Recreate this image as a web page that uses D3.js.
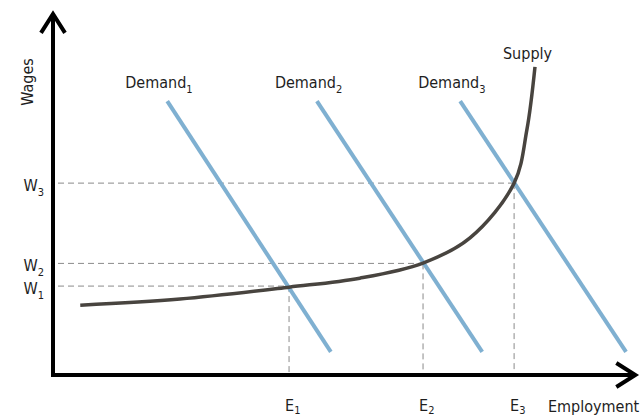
<!DOCTYPE html>
<html>
<head>
<meta charset="utf-8">
<style>
  body { margin: 0; background: #fff; }
  text { font-family: "DejaVu Sans Condensed", "DejaVu Sans", sans-serif; font-stretch: condensed; fill: #1e1e1e; }
</style>
<script src="https://cdn.jsdelivr.net/npm/d3@7"></script>
</head>
<body>
<svg id="chart"></svg>
<script>
// equilibrium levels (axis units 0..100)
var wageLevels = [24.7, 31.0, 53.3];
var employmentLevels = [40.7, 63.8, 79.5];
var levelNames = ["1", "2", "3"];

// demand curves: [x0, y0, x1, y1]
var demandNames = ["Demand", "Demand", "Demand"];
var demandLines = [
  [19.7, 76.1, 47.9, 6.4],
  [45.5, 76.1, 74.0, 6.4],
  [70.2, 76.1, 98.8, 6.4]
];

// supply curve points
var supplyX = [4.7, 21.9, 40.7, 52.9, 63.8, 71.9, 79.5, 81.7, 83.1];
var supplyY = [19.4, 21.1, 24.4, 26.9, 31.1, 38.1, 53.3, 68.1, 85.6];

var width = 643, height = 416;
var svg = d3.select("#chart").attr("width", width).attr("height", height);

var x = d3.scaleLinear().domain([0, 100]).range([53, 633]);
var y = d3.scaleLinear().domain([0, 100]).range([375, 15]);

// dashed guides
var guides = svg.append("g")
  .attr("stroke", "#8a8a8a")
  .attr("stroke-width", 1)
  .attr("stroke-dasharray", "6,4");
wageLevels.forEach(function(w, i) {
  guides.append("line")
    .attr("x1", x(0) + 5).attr("x2", x(employmentLevels[i]))
    .attr("y1", y(w)).attr("y2", y(w));
  guides.append("line")
    .attr("x1", x(employmentLevels[i])).attr("x2", x(employmentLevels[i]))
    .attr("y1", y(w)).attr("y2", y(0));
});

// demand lines
demandLines.forEach(function(d) {
  svg.append("line")
    .attr("x1", x(d[0])).attr("y1", y(d[1]))
    .attr("x2", x(d[2])).attr("y2", y(d[3]))
    .attr("stroke", "#7fb0d1")
    .attr("stroke-width", 4);
});

// supply curve
var supply = supplyX.map(function(v, i) { return [v, supplyY[i]]; });
svg.append("path")
  .datum(supply)
  .attr("fill", "none")
  .attr("stroke", "#48443f")
  .attr("stroke-width", 3.5)
  .attr("d", d3.line()
    .x(function(d) { return x(d[0]); })
    .y(function(d) { return y(d[1]); })
    .curve(d3.curveCatmullRom));

// axes with arrowheads
var yTip = y(100.3), xTip = x(100.4);
var axes = svg.append("g")
  .attr("stroke", "#000")
  .attr("stroke-width", 4)
  .attr("fill", "none");
axes.append("line")
  .attr("x1", x(0)).attr("x2", x(0))
  .attr("y1", y(0) + 2).attr("y2", yTip + 1);
axes.append("line")
  .attr("x1", x(0) - 2).attr("x2", xTip - 1)
  .attr("y1", y(0)).attr("y2", y(0));
axes.append("path")
  .attr("d", "M" + (x(0) - 12) + "," + (yTip + 19) + "L" + x(0) + "," + yTip + "L" + (x(0) + 12) + "," + (yTip + 19));
axes.append("path")
  .attr("d", "M" + (xTip - 19) + "," + (y(0) - 12) + "L" + xTip + "," + y(0) + "L" + (xTip - 19) + "," + (y(0) + 12));

// labels with subscripts
function subLabel(g, base, sub, drop) {
  g.append("tspan").text(base);
  g.append("tspan").attr("font-size", 11).attr("dy", drop).text(sub);
}

wageLevels.forEach(function(w, i) {
  var t = svg.append("text")
    .attr("x", x(0) - 9).attr("y", y(w) + 8)
    .attr("text-anchor", "end")
    .attr("font-size", 16);
  subLabel(t, "W", levelNames[i], 5);
});

employmentLevels.forEach(function(e, i) {
  var t = svg.append("text")
    .attr("x", x(e) - 4).attr("y", 411)
    .attr("font-size", 16);
  subLabel(t, "E", levelNames[i], 3);
});

demandLines.forEach(function(d, i) {
  var t = svg.append("text")
    .attr("x", x(d[0]) - 42).attr("y", y(d[1]) - 13)
    .attr("font-size", 16);
  subLabel(t, demandNames[i], levelNames[i], 5);
});

svg.append("text")
  .attr("x", x(supplyX[supplyX.length - 1]) - 32).attr("y", 59)
  .attr("font-size", 16)
  .text("Supply");

svg.append("text")
  .attr("x", 548).attr("y", 412)
  .attr("font-size", 16)
  .text("Employment");

svg.append("text")
  .attr("transform", "translate(33,82) rotate(-90)")
  .attr("text-anchor", "middle")
  .attr("font-size", 16)
  .text("Wages");
</script>
</body>
</html>
